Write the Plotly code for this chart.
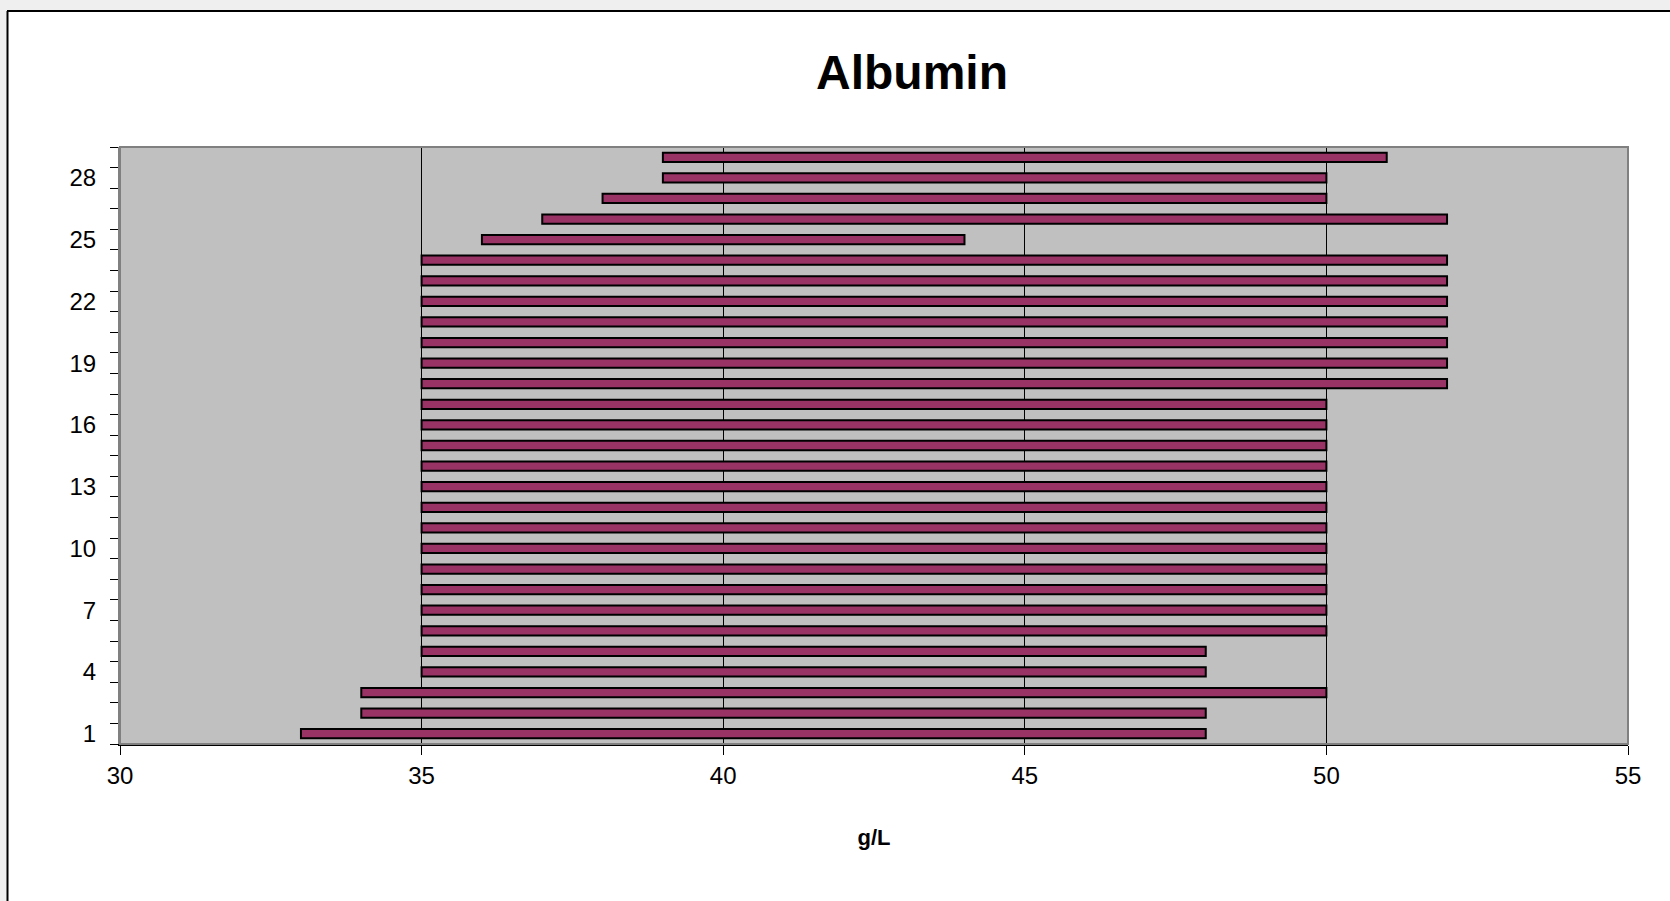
import plotly.graph_objects as go

# Data: subject number, albumin reference range low / high (g/L)
subjects = list(range(1, 30))
low = [33, 34, 34, 35, 35, 35, 35, 35, 35, 35, 35, 35, 35, 35, 35, 35, 35,
       35, 35, 35, 35, 35, 35, 35, 36, 37, 38, 39, 39]
high = [48, 48, 50, 48, 48, 50, 50, 50, 50, 50, 50, 50, 50, 50, 50, 50, 50,
        52, 52, 52, 52, 52, 52, 52, 44, 52, 50, 50, 51]
x_ticks = [30, 35, 40, 45, 50, 55]
y_label_ticks = [1, 4, 7, 10, 13, 16, 19, 22, 25, 28]

W, H = 1670, 901
L, R, T, B = 120, 42, 147, 157
pw, ph = W - L - R, H - T - B

def px_x(p):
    return (p - L) / pw

def px_y(p):
    return (H - B - p) / ph

fig = go.Figure()
fig.add_trace(go.Bar(
    y=subjects,
    x=[h - l for h, l in zip(high, low)],
    base=low,
    orientation="h",
    width=0.45,
    marker=dict(color="#993366", line=dict(color="black", width=2)),
    showlegend=False,
    hoverinfo="x+y",
))

shapes = [
    # plot area border (gray)
    dict(type="rect", xref="paper", yref="paper", x0=0, x1=1, y0=0, y1=1,
         line=dict(color="#808080", width=2), layer="above"),
    # surrounding light area outside chart
    dict(type="rect", xref="paper", yref="paper", x0=px_x(0), x1=px_x(7),
         y0=px_y(901), y1=px_y(0), fillcolor="#efefef", line=dict(width=0), layer="below"),
    dict(type="rect", xref="paper", yref="paper", x0=px_x(0), x1=px_x(1670),
         y0=px_y(10), y1=px_y(0), fillcolor="#efefef", line=dict(width=0), layer="below"),
    # chart area border (black) left and top
    dict(type="line", xref="paper", yref="paper", x0=px_x(7.5), x1=px_x(7.5),
         y0=px_y(901), y1=px_y(11), line=dict(color="black", width=2)),
    dict(type="line", xref="paper", yref="paper", x0=px_x(7), x1=px_x(1670),
         y0=px_y(11), y1=px_y(11), line=dict(color="black", width=2)),
]

fig.update_layout(
    width=W, height=H,
    margin=dict(l=L, r=R, t=T, b=B),
    paper_bgcolor="white",
    plot_bgcolor="#C0C0C0",
    font=dict(family="Liberation Sans, Arial, sans-serif", color="black"),
    title=dict(text="<b>Albumin</b>", x=912 / W, xanchor="center",
               y=1 - 72 / H, yanchor="middle",
               font=dict(size=48, color="black")),
    bargap=0.5,
    shapes=shapes,
    xaxis=dict(
        range=[30, 55],
        tickmode="array", tickvals=x_ticks, ticktext=[str(v) for v in x_ticks],
        ticks="outside", ticklen=9, tickwidth=1, tickcolor="black",
        showgrid=True, gridcolor="black", gridwidth=1,
        showline=True, linecolor="black", linewidth=2,
        zeroline=False,
        tickfont=dict(size=24),
        title=dict(text="<b>g/L</b>", font=dict(size=22), standoff=42),
        fixedrange=True,
    ),
    yaxis=dict(
        range=[0.5, 29.5],
        tickmode="array", tickvals=y_label_ticks,
        ticktext=[str(v) for v in y_label_ticks],
        ticks="", ticklabelstandoff=17,
        minor=dict(ticks="outside", ticklen=8, tickwidth=1, tickcolor="black",
                   tickmode="linear", tick0=0.5, dtick=1, showgrid=False),
        showgrid=False,
        showline=True, linecolor="#808080", linewidth=2,
        zeroline=False,
        tickfont=dict(size=24),
        fixedrange=True,
    ),
)

fig.write_html(
    "out.html",
    config={"displayModeBar": False},
    post_script="document.body.style.margin='0';document.body.style.overflow='hidden';",
)
